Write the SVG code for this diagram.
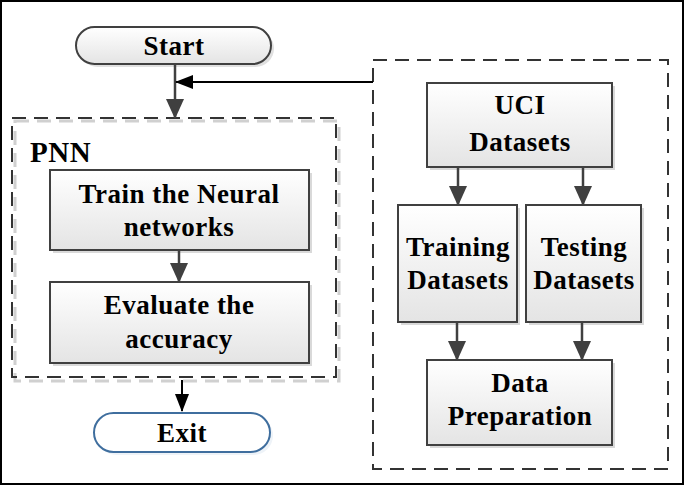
<svg xmlns="http://www.w3.org/2000/svg" width="685" height="486" viewBox="0 0 685 486">
<defs>
<linearGradient id="g" x1="0" y1="0" x2="0" y2="1">
<stop offset="0" stop-color="#ffffff"/>
<stop offset="1" stop-color="#e4e4e4"/>
</linearGradient>
<marker id="ah" markerWidth="20" markerHeight="20" viewBox="0 0 20 20" refX="19" refY="10" orient="auto" markerUnits="userSpaceOnUse">
<path d="M0,1 L20,10 L0,19 Z" fill="#404040"/>
</marker>
<marker id="ahb" markerWidth="18" markerHeight="18" viewBox="0 0 18 18" refX="17" refY="9" orient="auto" markerUnits="userSpaceOnUse">
<path d="M0,2 L18,9 L0,16 Z" fill="#000000"/>
</marker>
</defs>
<style>
.box{fill:url(#g);stroke:#404040;stroke-width:2}
.sh{fill:#d9d9d9}
.t{font-family:"Liberation Serif","Times New Roman",serif;font-weight:bold;font-size:27px;letter-spacing:0.5px;fill:#000;text-anchor:middle}
.dash{fill:none;stroke:#333;stroke-width:2;stroke-dasharray:14,8}
.dashsh{fill:none;stroke:#d0d0d0;stroke-width:3;stroke-dasharray:14,8}
.c{stroke:#404040;stroke-width:2.5;fill:none}
</style>
<rect x="1" y="1" width="682" height="483" fill="#fff" stroke="#000" stroke-width="2"/>

<g id="pnn">
<rect x="15" y="121" width="324" height="260" class="dashsh"/>
<rect x="12" y="118" width="324" height="259" class="dash"/>
<text x="30" y="162" class="t" style="text-anchor:start;font-size:29px">PNN</text>
</g>
<g id="data-group">
<rect x="373" y="60" width="295" height="409" class="dash"/>
</g>

<g id="start">
<rect x="79" y="30" width="195" height="37" rx="18.5" fill="#e0e0e0"/>
<rect x="76" y="27" width="195" height="37" rx="18.5" fill="url(#g)" stroke="#404040" stroke-width="2"/>
<text x="174" y="55" class="t">Start</text>
</g>

<g id="train">
<rect x="53" y="173" width="259" height="80" class="sh"/>
<rect x="50" y="170" width="259" height="80" class="box"/>
<text x="179" y="203" class="t">Train the Neural</text>
<text x="179" y="236" class="t">networks</text>
</g>

<g id="evaluate">
<rect x="53" y="285" width="259" height="81" class="sh"/>
<rect x="50" y="282" width="259" height="81" class="box"/>
<text x="179" y="314" class="t">Evaluate the</text>
<text x="179" y="348" class="t">accuracy</text>
</g>

<g id="exit">
<rect x="97" y="416" width="176" height="39" rx="19.5" fill="#eef3f8"/>
<rect x="94" y="413" width="176" height="39" rx="19.5" fill="#fff" stroke="#3f6e9e" stroke-width="2"/>
<text x="182" y="442" class="t">Exit</text>
</g>

<g id="uci">
<rect x="430" y="86" width="185" height="84" class="sh"/>
<rect x="427" y="83" width="185" height="84" class="box"/>
<text x="520" y="114" class="t">UCI</text>
<text x="520" y="151" class="t">Datasets</text>
</g>

<g id="training">
<rect x="401" y="208" width="119" height="117" class="sh"/>
<rect x="398" y="205" width="119" height="117" class="box"/>
<text x="458" y="256" class="t">Training</text>
<text x="458" y="289" class="t">Datasets</text>
</g>

<g id="testing">
<rect x="529" y="208" width="115" height="117" class="sh"/>
<rect x="526" y="205" width="115" height="117" class="box"/>
<text x="584" y="256" class="t">Testing</text>
<text x="584" y="289" class="t">Datasets</text>
</g>

<g id="preparation">
<rect x="430" y="363" width="185" height="85" class="sh"/>
<rect x="427" y="360" width="185" height="85" class="box"/>
<text x="520" y="392" class="t">Data</text>
<text x="520" y="425" class="t">Preparation</text>
</g>

<g id="connectors">
<line x1="175" y1="64" x2="175" y2="118" class="c" marker-end="url(#ah)"/>
<line x1="373" y1="82" x2="176" y2="82" stroke="#000" stroke-width="2" marker-end="url(#ahb)"/>
<line x1="179" y1="250" x2="179" y2="282" class="c" marker-end="url(#ah)"/>
<line x1="182" y1="380" x2="182" y2="411" stroke="#000" stroke-width="2" marker-end="url(#ahb)"/>
<line x1="458" y1="167" x2="458" y2="205" class="c" marker-end="url(#ah)"/>
<line x1="583" y1="167" x2="583" y2="205" class="c" marker-end="url(#ah)"/>
<line x1="457" y1="322" x2="457" y2="360" class="c" marker-end="url(#ah)"/>
<line x1="582" y1="322" x2="582" y2="360" class="c" marker-end="url(#ah)"/>
</g>
</svg>
